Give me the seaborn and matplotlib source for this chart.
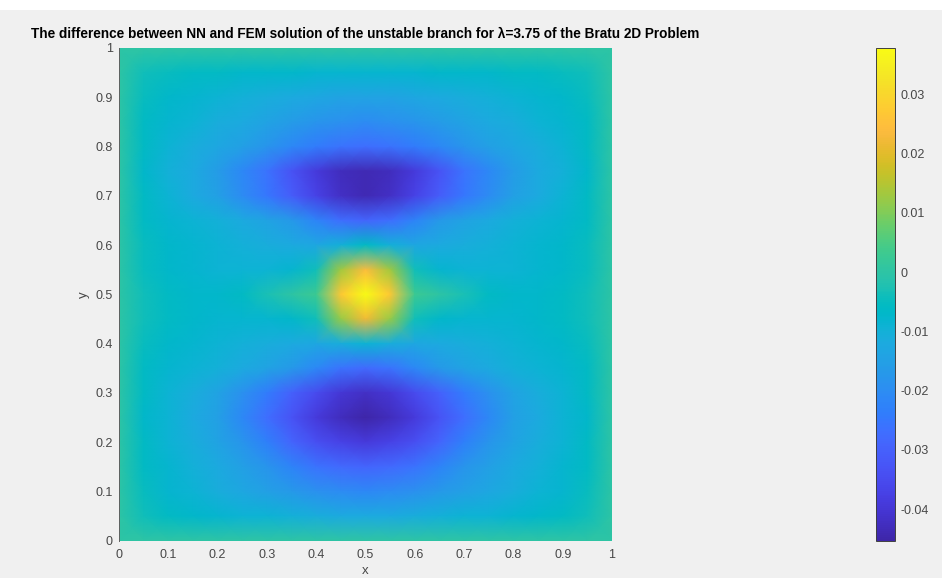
import numpy as np
import pandas as pd
import matplotlib
matplotlib.use("Agg")
import matplotlib.pyplot as plt
import seaborn as sns
from matplotlib.colors import LinearSegmentedColormap
from matplotlib.patches import Rectangle

# ---------------- data ----------------
title = "The difference between NN and FEM solution of the unstable branch for \u03bb=3.75 of the Bratu 2D Problem"
grid_coords = [0.00, 0.05, 0.10, 0.15, 0.20, 0.25, 0.30, 0.35, 0.40, 0.45, 0.50,
               0.55, 0.60, 0.65, 0.70, 0.75, 0.80, 0.85, 0.90, 0.95, 1.00]
axis_ticks = [0, 0.1, 0.2, 0.3, 0.4, 0.5, 0.6, 0.7, 0.8, 0.9, 1]
axis_tick_labels = ["0", "0.1", "0.2", "0.3", "0.4", "0.5", "0.6", "0.7", "0.8", "0.9", "1"]
cbar_ticks = [-0.04, -0.03, -0.02, -0.01, 0, 0.01, 0.02, 0.03]
cbar_tick_labels = ["-0.04", "-0.03", "-0.02", "-0.01", "0", "0.01", "0.02", "0.03"]
c_min, c_max = -0.0453, 0.0378

# difference NN - FEM (in units of 1e-3); one row per y, columns x = 0 ... 1
row_y100 = [0] * 21
row_y095 = [0, -4, -5, -6, -6, -7, -7, -7, -8, -8, -8, -8, -8, -7, -7, -7, -6, -6, -5, -4, 0]
row_y090 = [0, -5, -7, -8, -9, -10, -11, -12, -13, -14, -14, -14, -13, -12, -11, -10, -9, -8, -7, -5, 0]
row_y085 = [0, -6, -8, -9, -11, -12, -14, -16, -18, -19, -20, -19, -18, -16, -14, -12, -11, -9, -8, -6, 0]
row_y080 = [0, -6, -9, -11, -13, -15, -18, -21, -24, -26, -27, -26, -24, -21, -18, -15, -13, -11, -9, -6, 0]
row_y075 = [0, -7, -10, -12, -16, -21, -26, -33, -39, -43, -44, -43, -39, -33, -26, -21, -16, -12, -10, -7, 0]
row_y070 = [0, -6, -9, -12, -15, -20, -25, -31, -37, -42, -44, -42, -37, -31, -25, -20, -15, -12, -9, -6, 0]
row_y065 = [0, -6, -8, -9, -10, -12, -14, -17, -22, -27, -29, -27, -22, -17, -14, -12, -10, -9, -8, -6, 0]
row_y060 = [0, -5, -7, -8, -9, -10, -11, -12, -13, -10, -6, -10, -13, -12, -11, -10, -9, -8, -7, -5, 0]
row_y055 = [0, -5, -7, -8, -9, -9, -9, -8, -4, 13, 24, 13, -4, -8, -9, -9, -9, -8, -7, -5, 0]
row_y050 = [0, -4, -6, -7, -7, -6, -3, 0, 3, 27, 38, 27, 3, 0, -3, -6, -7, -7, -6, -4, 0]
row_y045 = [0, -4, -6, -7, -8, -8, -8, -7, -4, 12, 22, 12, -4, -7, -8, -8, -8, -7, -6, -4, 0]
row_y040 = [0, -5, -7, -8, -9, -10, -11, -12, -13, -11, -9, -11, -13, -12, -11, -10, -9, -8, -7, -5, 0]
row_y035 = [0, -6, -8, -9, -10, -12, -14, -17, -21, -26, -28, -26, -21, -17, -14, -12, -10, -9, -8, -6, 0]
row_y030 = [0, -6, -9, -11, -14, -19, -24, -30, -35, -40, -42, -40, -35, -30, -24, -19, -14, -11, -9, -6, 0]
row_y025 = [0, -7, -9, -12, -15, -21, -27, -33, -39, -43, -45, -43, -39, -33, -27, -21, -15, -12, -9, -7, 0]
row_y020 = [0, -6, -9, -11, -14, -18, -23, -29, -34, -37, -39, -37, -34, -29, -23, -18, -14, -11, -9, -6, 0]
row_y015 = [0, -6, -8, -10, -12, -15, -18, -22, -26, -28, -29, -28, -26, -22, -18, -15, -12, -10, -8, -6, 0]
row_y010 = [0, -5, -8, -9, -11, -13, -15, -17, -19, -20, -21, -20, -19, -17, -15, -13, -11, -9, -8, -5, 0]
row_y005 = [0, -4, -6, -7, -8, -9, -9, -10, -11, -12, -12, -12, -11, -10, -9, -9, -8, -7, -6, -4, 0]
row_y000 = [0] * 21

rows_top_to_bottom = [row_y100, row_y095, row_y090, row_y085, row_y080, row_y075, row_y070,
                      row_y065, row_y060, row_y055, row_y050, row_y045, row_y040, row_y035,
                      row_y030, row_y025, row_y020, row_y015, row_y010, row_y005, row_y000]

# ---------------- MATLAB parula colormap ----------------
parula_rgb = [
    (0.2422, 0.1504, 0.6603), (0.2504, 0.1650, 0.7076), (0.2578, 0.1818, 0.7511), (0.2647, 0.1978, 0.7952),
    (0.2706, 0.2147, 0.8364), (0.2751, 0.2342, 0.8710), (0.2783, 0.2559, 0.8991), (0.2803, 0.2782, 0.9221),
    (0.2813, 0.3006, 0.9414), (0.2810, 0.3228, 0.9579), (0.2795, 0.3447, 0.9717), (0.2760, 0.3667, 0.9829),
    (0.2699, 0.3892, 0.9906), (0.2602, 0.4123, 0.9952), (0.2440, 0.4358, 0.9988), (0.2206, 0.4603, 0.9973),
    (0.1963, 0.4847, 0.9892), (0.1834, 0.5074, 0.9798), (0.1786, 0.5289, 0.9682), (0.1764, 0.5499, 0.9520),
    (0.1687, 0.5703, 0.9359), (0.1540, 0.5902, 0.9218), (0.1460, 0.6091, 0.9079), (0.1380, 0.6276, 0.8973),
    (0.1248, 0.6459, 0.8883), (0.1113, 0.6635, 0.8763), (0.0952, 0.6798, 0.8598), (0.0689, 0.6948, 0.8394),
    (0.0297, 0.7082, 0.8163), (0.0036, 0.7203, 0.7917), (0.0067, 0.7312, 0.7660), (0.0433, 0.7411, 0.7394),
    (0.0964, 0.7500, 0.7120), (0.1408, 0.7584, 0.6842), (0.1717, 0.7670, 0.6554), (0.1938, 0.7758, 0.6251),
    (0.2161, 0.7843, 0.5923), (0.2470, 0.7918, 0.5567), (0.2906, 0.7973, 0.5188), (0.3406, 0.8008, 0.4789),
    (0.3909, 0.8029, 0.4354), (0.4456, 0.8024, 0.3909), (0.5044, 0.7993, 0.3480), (0.5616, 0.7942, 0.3045),
    (0.6174, 0.7876, 0.2612), (0.6720, 0.7793, 0.2227), (0.7242, 0.7698, 0.1910), (0.7738, 0.7598, 0.1646),
    (0.8203, 0.7498, 0.1535), (0.8634, 0.7406, 0.1596), (0.9035, 0.7330, 0.1774), (0.9393, 0.7288, 0.2100),
    (0.9728, 0.7298, 0.2394), (0.9956, 0.7434, 0.2371), (0.9970, 0.7659, 0.2199), (0.9952, 0.7893, 0.2028),
    (0.9892, 0.8136, 0.1885), (0.9786, 0.8386, 0.1766), (0.9676, 0.8639, 0.1643), (0.9610, 0.8890, 0.1537),
    (0.9597, 0.9135, 0.1423), (0.9628, 0.9373, 0.1265), (0.9691, 0.9606, 0.1064), (0.9769, 0.9839, 0.0805),
]
parula = LinearSegmentedColormap.from_list("parula", parula_rgb, N=256)

# ---------------- figure ----------------
sns.set_theme(style="white")
plt.rcParams["font.family"] = ["Liberation Sans", "DejaVu Sans"]
text_color = "#474747"

W, H = 942, 578
fig = plt.figure(figsize=(W / 100, H / 100), dpi=100, facecolor="#f0f0f0")
fig.patches.append(Rectangle((0, 1 - 10 / H), 1, 10 / H, transform=fig.transFigure,
                             facecolor="white", edgecolor="none", zorder=-1))

ax = fig.add_axes([119 / W, 1 - 540.7 / H, 493 / W, 492.7 / H])
cax = fig.add_axes([876 / W, 1 - 540.7 / H, 19 / W, 492.7 / H])

df = pd.DataFrame(np.array(rows_top_to_bottom, dtype=float) * 1e-3,
                  index=grid_coords[::-1], columns=grid_coords)

sns.heatmap(df, ax=ax, cbar_ax=cax, cmap=parula, vmin=c_min, vmax=c_max,
            xticklabels=False, yticklabels=False, shading="gouraud")

n = len(grid_coords) - 1
ax.set_xlim(0, n)
ax.set_ylim(n, 0)
ax.set_xticks([t * n for t in axis_ticks])
ax.set_xticklabels(axis_tick_labels)
ax.set_yticks([(1 - t) * n for t in axis_ticks])
ax.set_yticklabels(axis_tick_labels)
ax.tick_params(axis="both", which="both", length=0, labelsize=9, colors=text_color)
ax.tick_params(axis="x", pad=6)
ax.tick_params(axis="y", pad=4.5)
for lbl in ax.get_yticklabels():
    lbl.set_rotation(0)
ax.set_xlabel("x", fontsize=9.5, color=text_color, labelpad=2.5)
ax.set_ylabel("y", fontsize=9.5, color=text_color, labelpad=4)
for side, sp in ax.spines.items():
    sp.set_visible(side == "left")
    sp.set_color("#606060")
    sp.set_linewidth(0.7)
ax.set_title(title, fontsize=9.8, fontweight="bold", color="black", pad=7)

cb = ax.collections[0].colorbar
cb.set_ticks(cbar_ticks)
cb.set_ticklabels(cbar_tick_labels)
cb.outline.set_linewidth(0.7)
cb.outline.set_edgecolor("#404040")
cax.tick_params(direction="in", length=4, width=0.6, color="#303030",
                labelsize=9, labelcolor=text_color, pad=4, right=True)

fig.savefig("out.png", dpi=100, facecolor=fig.get_facecolor())
